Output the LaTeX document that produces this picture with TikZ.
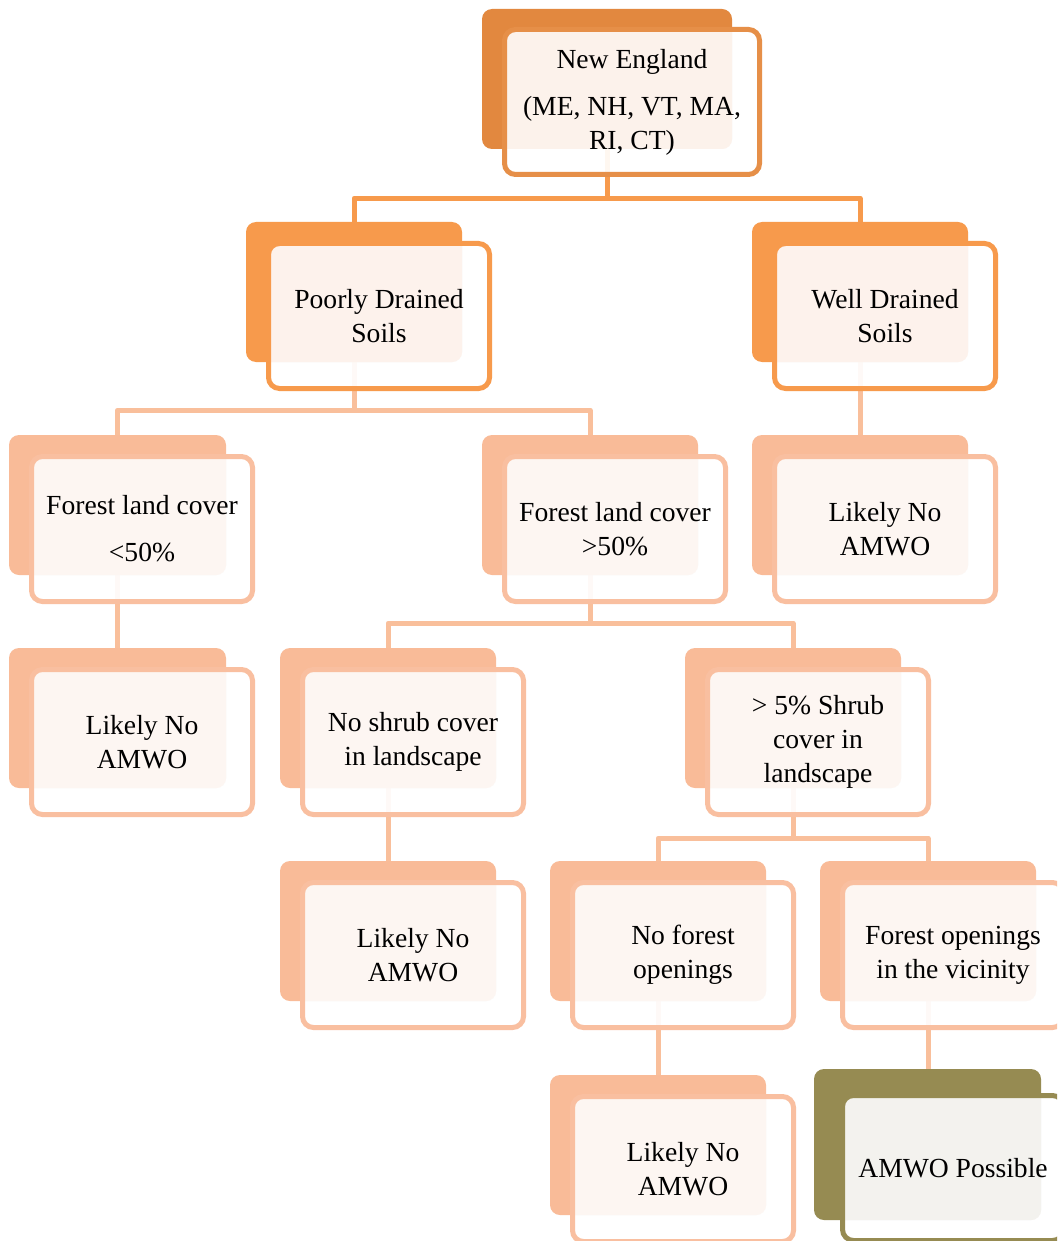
\documentclass[tikz,border=0pt]{standalone}
\usepackage{fontspec}
\setmainfont{Liberation Serif}
\usetikzlibrary{backgrounds}
\definecolor{c0back}{HTML}{E2883F}
\definecolor{c0border}{HTML}{E68F48}
\definecolor{c0tint}{HTML}{FCF2EB}
\definecolor{c1back}{HTML}{F79A4C}
\definecolor{c1border}{HTML}{F79A4C}
\definecolor{c1tint}{HTML}{FDF2EC}
\definecolor{c2back}{HTML}{F9BB98}
\definecolor{c2border}{HTML}{F9BFA0}
\definecolor{c2tint}{HTML}{FDF6F2}
\definecolor{c3back}{HTML}{968B52}
\definecolor{c3border}{HTML}{968B52}
\definecolor{c3tint}{HTML}{F3F2EE}
\definecolor{conndark}{HTML}{F79A4C}
\definecolor{connlight}{HTML}{F9BF9B}
\newcommand{\boxfont}{\fontsize{27.6}{34}\selectfont}
\newcommand{\fw}{226}
\newcommand{\fh}{150}
\tikzset{
  backbox/.style={rectangle, rounded corners=10pt, draw=none, inner sep=0pt},
  frontbox/.style={rectangle, rounded corners=11pt, line width=5pt, inner sep=0pt,
    align=center, font=\boxfont, text=black},
  conn/.style={line width=5pt, line join=round},
}
% #1 name, #2 x, #3 y, #4 back w, #5 back h, #6 dx, #7 dy, #8 colour set, #9 text
\newcommand{\flowbox}[9]{%
  \node[backbox, fill=#8back, minimum width={#4*1pt}, minimum height={#5*1pt}]
    (#1-b) at ({#2+#4/2},{#3+#5/2}) {};
  \fill[white, fill opacity=0.92, rounded corners=11pt]
    ({#2+#6+2.5},{#3+#7+2.5}) rectangle ({#2+#6+\fw-2.5},{#3+#7+\fh-2.5});
  \begin{scope}
    \clip[rounded corners=9pt] ({#2+#6+5},{#3+#7+5}) rectangle ({#2+#6+\fw-5},{#3+#7+\fh-5});
    \fill[#8tint, rounded corners=10pt] (#2,#3) rectangle ({#2+#4},{#3+#5});
  \end{scope}
  \node[frontbox, draw=#8border, minimum width={(\fw-5)*1pt}, minimum height={(\fh-5)*1pt}]
    (#1) at ({#2+#6+\fw/2},{#3+#7+\fh/2}) {#9};
}
\begin{document}
\begin{tikzpicture}[x=1pt, y=-1pt]
\useasboundingbox (0,0) rectangle (1057,1241);
\clip (0,0) rectangle (1057,1241);

\renewcommand{\fw}{260}
\flowbox{ne}{482}{9}{250}{140}{20}{18}{c0}{New England\\[13pt](ME, NH, VT, MA,\\RI, CT)}
\renewcommand{\fw}{226}
\flowbox{pd}{246}{222}{216}{140}{20}{19}{c1}{Poorly Drained\\Soils}
\flowbox{wd}{752}{222}{216}{140}{20}{19}{c1}{Well Drained\\Soils}
\flowbox{fa}{9}{435}{217}{140}{20}{19}{c2}{Forest land cover\\[13pt]<50\%}
\flowbox{fb}{482}{435}{216}{140}{20}{19}{c2}{Forest land cover\\>50\%}
\flowbox{lna}{752}{435}{216}{140}{20}{19}{c2}{Likely No\\AMWO}
\flowbox{lnb}{9}{648}{217}{140}{20}{19}{c2}{Likely No\\AMWO}
\flowbox{ns}{280}{648}{216}{140}{20}{19}{c2}{No shrub cover\\in landscape}
\flowbox{sh}{685}{648}{216}{140}{20}{19}{c2}{> 5\% Shrub\\cover in\\landscape}
\flowbox{lnc}{280}{861}{216}{140}{20}{19}{c2}{Likely No\\AMWO}
\flowbox{nf}{550}{861}{216}{140}{20}{19}{c2}{No forest\\openings}
\flowbox{fo}{820}{861}{216}{140}{20}{19}{c2}{Forest openings\\in the vicinity}
\flowbox{lnd}{550}{1075}{216}{140}{20}{19}{c2}{Likely No\\AMWO}
\flowbox{amwo}{814}{1069}{227}{151}{26}{24}{c3}{AMWO Possible}

\begin{scope}[on background layer]
  \fill[white] (0,0) rectangle (1057,1241);
  \draw[conn, conndark] (ne-b.south) -- ++(0,49) -| (pd-b.north);
  \draw[conn, conndark] (ne-b.south) -- ++(0,49) -| (wd-b.north);
  \draw[conn, connlight] (pd-b.south) -- ++(0,48) -| (fa-b.north);
  \draw[conn, connlight] (pd-b.south) -- ++(0,48) -| (fb-b.north);
  \draw[conn, connlight] (wd-b.south) -- (lna-b.north);
  \draw[conn, connlight] (fa-b.south) -- (lnb-b.north);
  \draw[conn, connlight] (fb-b.south) -- ++(0,48) -| (ns-b.north);
  \draw[conn, connlight] (fb-b.south) -- ++(0,48) -| (sh-b.north);
  \draw[conn, connlight] (ns-b.south) -- (lnc-b.north);
  \draw[conn, connlight] (sh-b.south) -- ++(0,50) -| (nf-b.north);
  \draw[conn, connlight] (sh-b.south) -- ++(0,50) -| (fo-b.north);
  \draw[conn, connlight] (nf-b.south) -- (lnd-b.north);
  \draw[conn, connlight] (fo-b.south) -- (fo-b.south |- amwo-b.north);
\end{scope}
\end{tikzpicture}
\end{document}
